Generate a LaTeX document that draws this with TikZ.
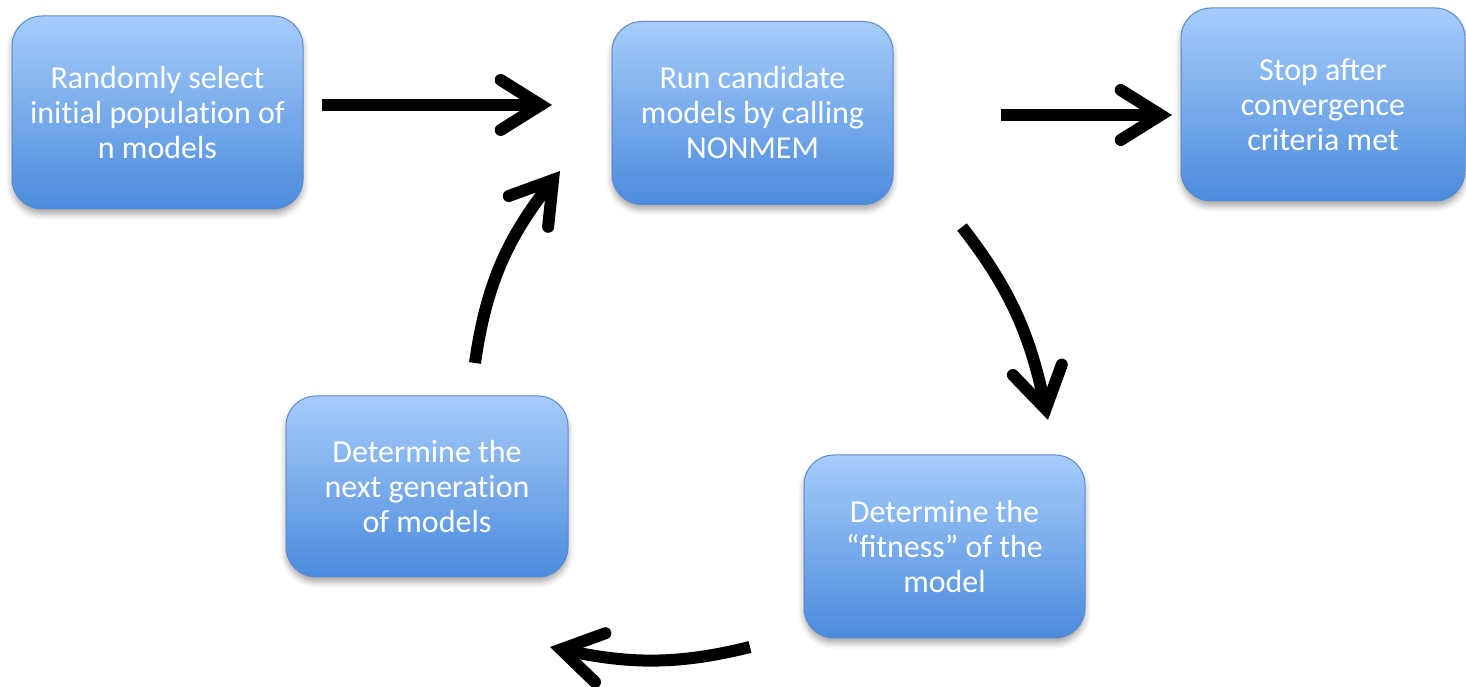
\documentclass[tikz,border=0pt]{standalone}
\usepackage{fontspec}
\setmainfont{Carlito}
\usetikzlibrary{arrows.meta,shadows.blur}

\definecolor{boxtop}{RGB}{166,204,250}
\definecolor{boxbot}{RGB}{76,139,221}
\definecolor{boxedge}{RGB}{92,138,205}

% keep t and i as separate letters
\newcommand{\tisep}{t\kern0pt i}

\begin{document}
\begin{tikzpicture}[x=1pt,y=1pt,
  stepbox/.style={rounded corners=30pt, top color=boxtop, bottom color=boxbot,
    draw=boxedge, line width=1pt, text=white, align=center,
    font=\fontsize{32}{35}\selectfont, inner sep=0pt,
    blur shadow={shadow xshift=0pt, shadow yshift=-5pt, shadow blur radius=6pt, shadow opacity=35}},
  flow/.style={line width=12pt, line cap=butt,
    -{Straight Barb[length=40pt, width=50pt, line cap=round, line join=miter]}}]

\useasboundingbox (0,0) rectangle (1466,687);

% process steps
\node[stepbox, minimum width=291pt, minimum height=193pt] (init) at (157.5,574.5)
  {Randomly select\\ini\tisep al popula\tisep on of\\n models};
\node[stepbox, minimum width=281pt, minimum height=183pt] (run) at (752.5,574)
  {Run candidate\\models by calling\\NONMEM};
\node[stepbox, minimum width=284pt, minimum height=193pt] (stop) at (1323,582.5)
  {Stop after\\convergence\\criteria met};
\node[stepbox, minimum width=282pt, minimum height=181pt] (next) at (427,200.5)
  {Determine the\\next genera\tisep on\\of models};
\node[stepbox, minimum width=281pt, minimum height=183pt] (fit) at (944.5,140.5)
  {Determine the\\“fitness” of the\\model};

% arrow end points
\coordinate (a1s) at (322,582);   \coordinate (a1e) at (552,582);
\coordinate (a2s) at (1001,572);  \coordinate (a2e) at (1172,572);
\coordinate (a3s) at (962,460);   \coordinate (a3e) at (1048,267);
\coordinate (a4s) at (750,40);    \coordinate (a4e) at (550,40);
\coordinate (a5s) at (475,324);   \coordinate (a5e) at (560,516);

\draw[flow] (a1s) -- (a1e);
\draw[flow] (a2s) -- (a2e);
\draw[flow] (a3s) to[out=-52, in=102] (a3e);
\draw[flow] (a4s) to[out=194, in=-12] (a4e);
\draw[flow] (a5s) to[out=82, in=-128] (a5e);
\end{tikzpicture}
\end{document}
